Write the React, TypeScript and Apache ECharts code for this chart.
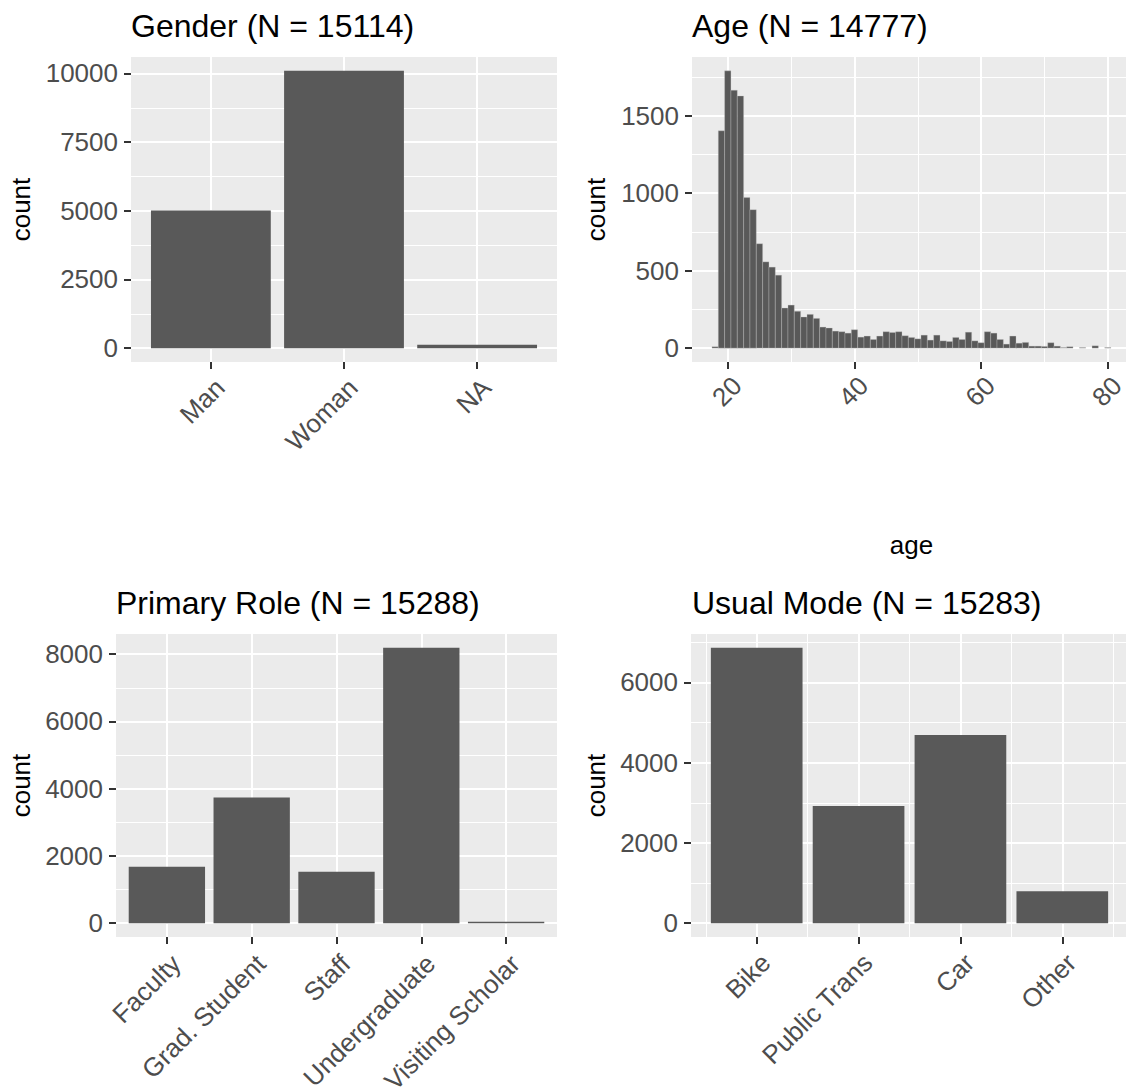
import React, { useEffect, useRef } from "react";
import * as echarts from "echarts";

// ---------- data ----------
const genderCats = ["Man", "Woman", "NA"];
const genderCounts = [5010, 10095, 125];

const ageBins = [
  18, 19, 20, 21, 22, 23, 24, 25, 26, 27, 28, 29, 30, 31, 32, 33, 34, 35, 36, 37, 38, 39,
  40, 41, 42, 43, 44, 45, 46, 47, 48, 49, 50, 51, 52, 53, 54, 55, 56, 57, 58, 59,
  60, 61, 62, 63, 64, 65, 66, 67, 68, 69, 70, 71, 72, 73, 74, 75, 76, 77, 78, 79, 80,
];
const ageCounts = [
  9, 1403, 1790, 1665, 1628, 972, 894, 674, 557, 523, 471, 259, 278, 238, 201, 218, 192, 136, 130, 110, 106, 97,
  119, 71, 78, 56, 78, 106, 101, 106, 80, 69, 60, 84, 52, 84, 47, 43, 69, 56, 103, 47,
  35, 106, 97, 56, 26, 78, 32, 37, 13, 13, 11, 35, 13, 4, 9, 0, 4, 0, 15, 0, 4,
];

const roleCats = ["Faculty", "Grad. Student", "Staff", "Undergraduate", "Visiting Scholar"];
const roleCounts = [1680, 3740, 1530, 8190, 45];

const modeCats = ["Bike", "Public Trans", "Car", "Other"];
const modeCounts = [6860, 2920, 4690, 797];

const genderYTicks = [0, 2500, 5000, 7500, 10000];
const genderYMinor = [1250, 3750, 6250, 8750];
const ageYTicks = [0, 500, 1000, 1500];
const ageYMinor = [250, 750, 1250, 1750];
const ageXTicks = [20, 40, 60, 80];
const ageXMinor = [30, 50, 70];
const roleYTicks = [0, 2000, 4000, 6000, 8000];
const roleYMinor = [1000, 3000, 5000, 7000];
const modeYTicks = [0, 2000, 4000, 6000];
const modeYMinor = [1000, 3000, 5000, 7000];
const modeXMinor = [0.5, 1.5, 2.5, 3.5, 4.5];

const titles = [
  "Gender (N = 15114)",
  "Age (N = 14777)",
  "Primary Role (N = 15288)",
  "Usual Mode (N = 15283)",
];

// ---------- styling ----------
const FONT = "'Liberation Sans', Arial, sans-serif";
const BAR = "#595959";
const PANEL = "#EBEBEB";
const TICKCOL = "#333333";
const LABELCOL = "#4D4D4D";

function buildOption() {
  const grids: any[] = [];
  const xAxes: any[] = [];
  const yAxes: any[] = [];
  const series: any[] = [];
  const titleArr: any[] = [];

  type Panel = {
    rect: { left: number; top: number; width: number; height: number };
    title: string;
    titleLeft: number;
    titleTop: number;
    xs: number[];
    ys: number[];
    half: number;
    xMin: number;
    xMax: number;
    xTicks: number[];
    xMinor: number[] | null;
    xFormatter: (v: number) => string;
    xLabelMargin: number;
    xName?: string;
    xNameGap?: number;
    yTicks: number[];
    yMinor: number[];
    yNameGap: number;
    histogram?: boolean;
  };

  const discrete = (n: number) => ({ xMin: 0.4, xMax: n + 0.6 });
  const idx = (n: number) => Array.from({ length: n }, (_, i) => i + 1);

  const modeLo = 1 - 0.45;
  const modeHi = modeCats.length + 0.45;
  const modePad = 0.05 * (modeHi - modeLo);
  const ageLo = ageBins[0] - 0.5;
  const ageHi = ageBins[ageBins.length - 1] + 0.5;
  const agePad = 0.05 * (ageHi - ageLo);

  const panels: Panel[] = [
    {
      rect: { left: 131, top: 57, width: 426, height: 305 },
      title: titles[0],
      titleLeft: 131,
      titleTop: 10,
      xs: idx(genderCats.length),
      ys: genderCounts,
      half: 0.45,
      ...discrete(genderCats.length),
      xTicks: idx(genderCats.length),
      xMinor: null,
      xFormatter: (v) => genderCats[Math.round(v) - 1] ?? "",
      xLabelMargin: 12,
      yTicks: genderYTicks,
      yMinor: genderYMinor,
      yNameGap: 97,
    },
    {
      rect: { left: 692, top: 57, width: 439, height: 305 },
      title: titles[1],
      titleLeft: 692,
      titleTop: 10,
      xs: ageBins,
      ys: ageCounts,
      half: 0.5,
      xMin: ageLo - agePad,
      xMax: ageHi + agePad,
      xTicks: ageXTicks,
      xMinor: ageXMinor,
      xFormatter: (v) => String(v),
      xLabelMargin: 10,
      xName: "age",
      xNameGap: 170,
      yTicks: ageYTicks,
      yMinor: ageYMinor,
      yNameGap: 83,
      histogram: true,
    },
    {
      rect: { left: 116, top: 634, width: 441, height: 303 },
      title: titles[2],
      titleLeft: 116,
      titleTop: 587,
      xs: idx(roleCats.length),
      ys: roleCounts,
      half: 0.45,
      ...discrete(roleCats.length),
      xTicks: idx(roleCats.length),
      xMinor: null,
      xFormatter: (v) => roleCats[Math.round(v) - 1] ?? "",
      xLabelMargin: 13,
      yTicks: roleYTicks,
      yMinor: roleYMinor,
      yNameGap: 82,
    },
    {
      rect: { left: 691, top: 634, width: 437, height: 303 },
      title: titles[3],
      titleLeft: 692,
      titleTop: 587,
      xs: idx(modeCats.length),
      ys: modeCounts,
      half: 0.45,
      xMin: modeLo - modePad,
      xMax: modeHi + modePad,
      xTicks: idx(modeCats.length),
      xMinor: modeXMinor,
      xFormatter: (v) => modeCats[Math.round(v) - 1] ?? "",
      xLabelMargin: 12,
      yTicks: modeYTicks,
      yMinor: modeYMinor,
      yNameGap: 82,
    },
  ];

  panels.forEach((p, gi) => {
    grids.push({
      ...p.rect,
      show: true,
      backgroundColor: PANEL,
      borderWidth: 0,
      containLabel: false,
      outerBoundsMode: "none",
    });
    titleArr.push({
      text: p.title,
      left: p.titleLeft,
      top: p.titleTop,
      padding: 0,
      textStyle: { fontFamily: FONT, fontSize: 32, fontWeight: "normal", color: "#000" },
    });
    const maxY = Math.max(...p.ys);
    const yMin = -0.05 * maxY;
    const yMax = 1.05 * maxY;

    // main x axis
    const xi = xAxes.length;
    xAxes.push({
      type: "value",
      gridIndex: gi,
      min: p.xMin,
      max: p.xMax,
      axisLine: { show: false, onZero: false },
      axisTick: {
        show: true,
        length: 7,
        customValues: p.xTicks,
        lineStyle: { color: TICKCOL, width: 2 },
      },
      axisLabel: {
        show: true,
        customValues: p.xTicks,
        formatter: p.xFormatter,
        rotate: 45,
        align: "right",
        verticalAlign: "top",
        margin: p.xLabelMargin,
        fontFamily: FONT,
        fontSize: 26,
        color: LABELCOL,
      },
      splitLine: { show: true, lineStyle: { color: "#FFFFFF", width: 2 } },
      name: p.xName ?? "",
      nameLocation: "middle",
      nameGap: p.xNameGap ?? 0,
      nameTextStyle: { fontFamily: FONT, fontSize: 26, color: "#000" },
      z: 3,
    });
    // minor x axis
    if (p.xMinor) {
      xAxes.push({
        type: "value",
        gridIndex: gi,
        min: p.xMin,
        max: p.xMax,
        axisLine: { show: false, onZero: false },
        axisTick: { show: false, customValues: p.xMinor },
        axisLabel: { show: false, customValues: p.xMinor },
        splitLine: { show: true, lineStyle: { color: "#FFFFFF", width: 1 } },
        z: 2,
      });
    }
    // main y axis
    const yi = yAxes.length;
    yAxes.push({
      type: "value",
      gridIndex: gi,
      min: yMin,
      max: yMax,
      axisLine: { show: false, onZero: false },
      axisTick: {
        show: true,
        length: 7,
        customValues: p.yTicks,
        lineStyle: { color: TICKCOL, width: 2 },
      },
      axisLabel: {
        show: true,
        customValues: p.yTicks,
        formatter: (v: number) => String(v),
        margin: 13,
        fontFamily: FONT,
        fontSize: 26,
        color: LABELCOL,
      },
      splitLine: { show: true, lineStyle: { color: "#FFFFFF", width: 2 } },
      name: "count",
      nameLocation: "middle",
      nameRotate: 90,
      nameGap: p.yNameGap,
      nameTextStyle: { fontFamily: FONT, fontSize: 26, color: "#000" },
      z: 3,
    });
    yAxes.push({
      type: "value",
      gridIndex: gi,
      min: yMin,
      max: yMax,
      axisLine: { show: false, onZero: false },
      axisTick: { show: false, customValues: p.yMinor },
      axisLabel: { show: false, customValues: p.yMinor },
      splitLine: { show: true, lineStyle: { color: "#FFFFFF", width: 1 } },
      z: 2,
    });

    const half = p.half;
    const hist = !!p.histogram;
    series.push({
      type: "custom",
      xAxisIndex: xi,
      yAxisIndex: yi,
      data: p.xs.map((x, i) => [x, p.ys[i]]),
      encode: { x: 0, y: 1 },
      z: 5,
      renderItem: (params: any, api: any) => {
        const x = api.value(0);
        const y = api.value(1);
        if (!y) return null;
        const tl = api.coord([x - half, y]);
        const br = api.coord([x + half, 0]);
        return {
          type: "rect",
          shape: { x: tl[0], y: tl[1], width: br[0] - tl[0], height: br[1] - tl[1] },
          style: hist
            ? { fill: BAR, stroke: "rgba(200,200,200,0.55)", lineWidth: 0.6 }
            : { fill: BAR },
        };
      },
    });
  });

  return {
    animation: false,
    backgroundColor: "#FFFFFF",
    textStyle: { fontFamily: FONT },
    title: titleArr,
    grid: grids,
    xAxis: xAxes,
    yAxis: yAxes,
    series,
  };
}

export default function App() {
  const ref = useRef<HTMLDivElement>(null);
  useEffect(() => {
    if (!ref.current) return;
    const chart = echarts.init(ref.current, undefined, { renderer: "svg" });
    chart.setOption(buildOption() as any);
    return () => chart.dispose();
  }, []);
  return (
    <div
      ref={ref}
      style={{ position: "fixed", left: 0, top: 0, width: 1126, height: 1090, background: "#fff" }}
    />
  );
}
